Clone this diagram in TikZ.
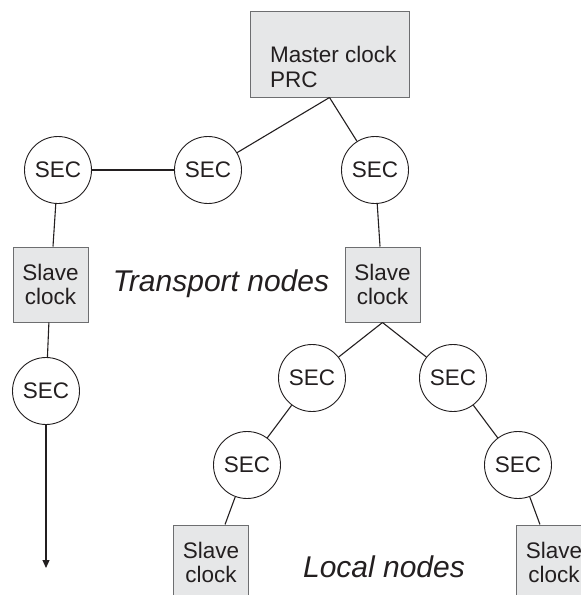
\documentclass[tikz,border=0pt]{standalone}
\usepackage{fontspec}
\setmainfont{Liberation Sans}
\usetikzlibrary{arrows.meta}
\definecolor{boxfill}{HTML}{E6E7E8}
\definecolor{boxline}{HTML}{6D6E70}
\definecolor{inkline}{HTML}{231F20}
\begin{document}
\begin{tikzpicture}[x=1pt,y=-1pt,
  sec/.style={circle,draw=inkline,line width=0.9pt,fill=white,minimum size=67pt,inner sep=0pt,
    font=\fontsize{22.5}{24}\selectfont,text=inkline},
  clockbox/.style={rectangle,draw=boxline,line width=1pt,fill=boxfill,minimum width=75pt,minimum height=75pt,
    inner sep=0pt,align=center,font=\fontsize{22.5}{24}\selectfont,text=inkline},
  link/.style={draw=inkline,line width=1.1pt},
  region/.style={font=\fontsize{30}{32}\selectfont\itshape,text=inkline,inner sep=0pt}]
\useasboundingbox (0,0) rectangle (581,595);
\clip (0,0) rectangle (581,595);
% master clock
\node[rectangle,draw=boxline,line width=1pt,fill=boxfill,minimum width=159pt,minimum height=86pt,inner sep=0pt]
  (prc) at (329.5,54) {};
\node[anchor=north west,inner sep=0pt,align=left,font=\fontsize{22.5}{25}\selectfont,text=inkline]
  (prctext) at (270,46) {Master clock\\PRC};
% SEC nodes
\node[sec] (sec1) at (58,170) {SEC};
\node[sec] (sec2) at (208,170) {SEC};
\node[sec] (sec3) at (375,170) {SEC};
\node[sec] (sec4) at (312,378) {SEC};
\node[sec] (sec5) at (453,378) {SEC};
\node[sec] (sec6) at (247,465) {SEC};
\node[sec] (sec7) at (518,465) {SEC};
\node[sec] (sec8) at (46,391) {SEC};
% slave clocks
\node[clockbox] (sl1) at (50.5,284.5) {Slave\\clock};
\node[clockbox] (sl2) at (382.5,284.5) {Slave\\clock};
\node[clockbox] (sl3) at (211,562.5) {Slave\\clock};
\node[clockbox] (sl4) at (554,562.5) {Slave\\clock};
% labels
\node[region] (transport) at (221,284) {Transport nodes};
\node[region] (local) at (384,567) {Local nodes};
% connectors
\coordinate (arrend) at (46,568);
\path[link] (prc.south) -- (sec2);
\path[link] (prc.south) -- (sec3);
\path[link] (sec1) -- (sec2);
\path[link] (sec1) -- (sl1);
\path[link] (sl1) -- (sec8);
\path[link,-{Triangle[length=8pt,width=7pt]}] (sec8.south) -- (arrend);
\path[link] (sec3) -- (sl2);
\path[link] (sl2.south) -- (sec4);
\path[link] (sl2.south) -- (sec5);
\path[link] (sec4) -- (sec6);
\path[link] (sec5) -- (sec7);
\path[link] (sec6) -- (sl3);
\path[link] (sec7) -- (sl4);
\end{tikzpicture}
\end{document}
